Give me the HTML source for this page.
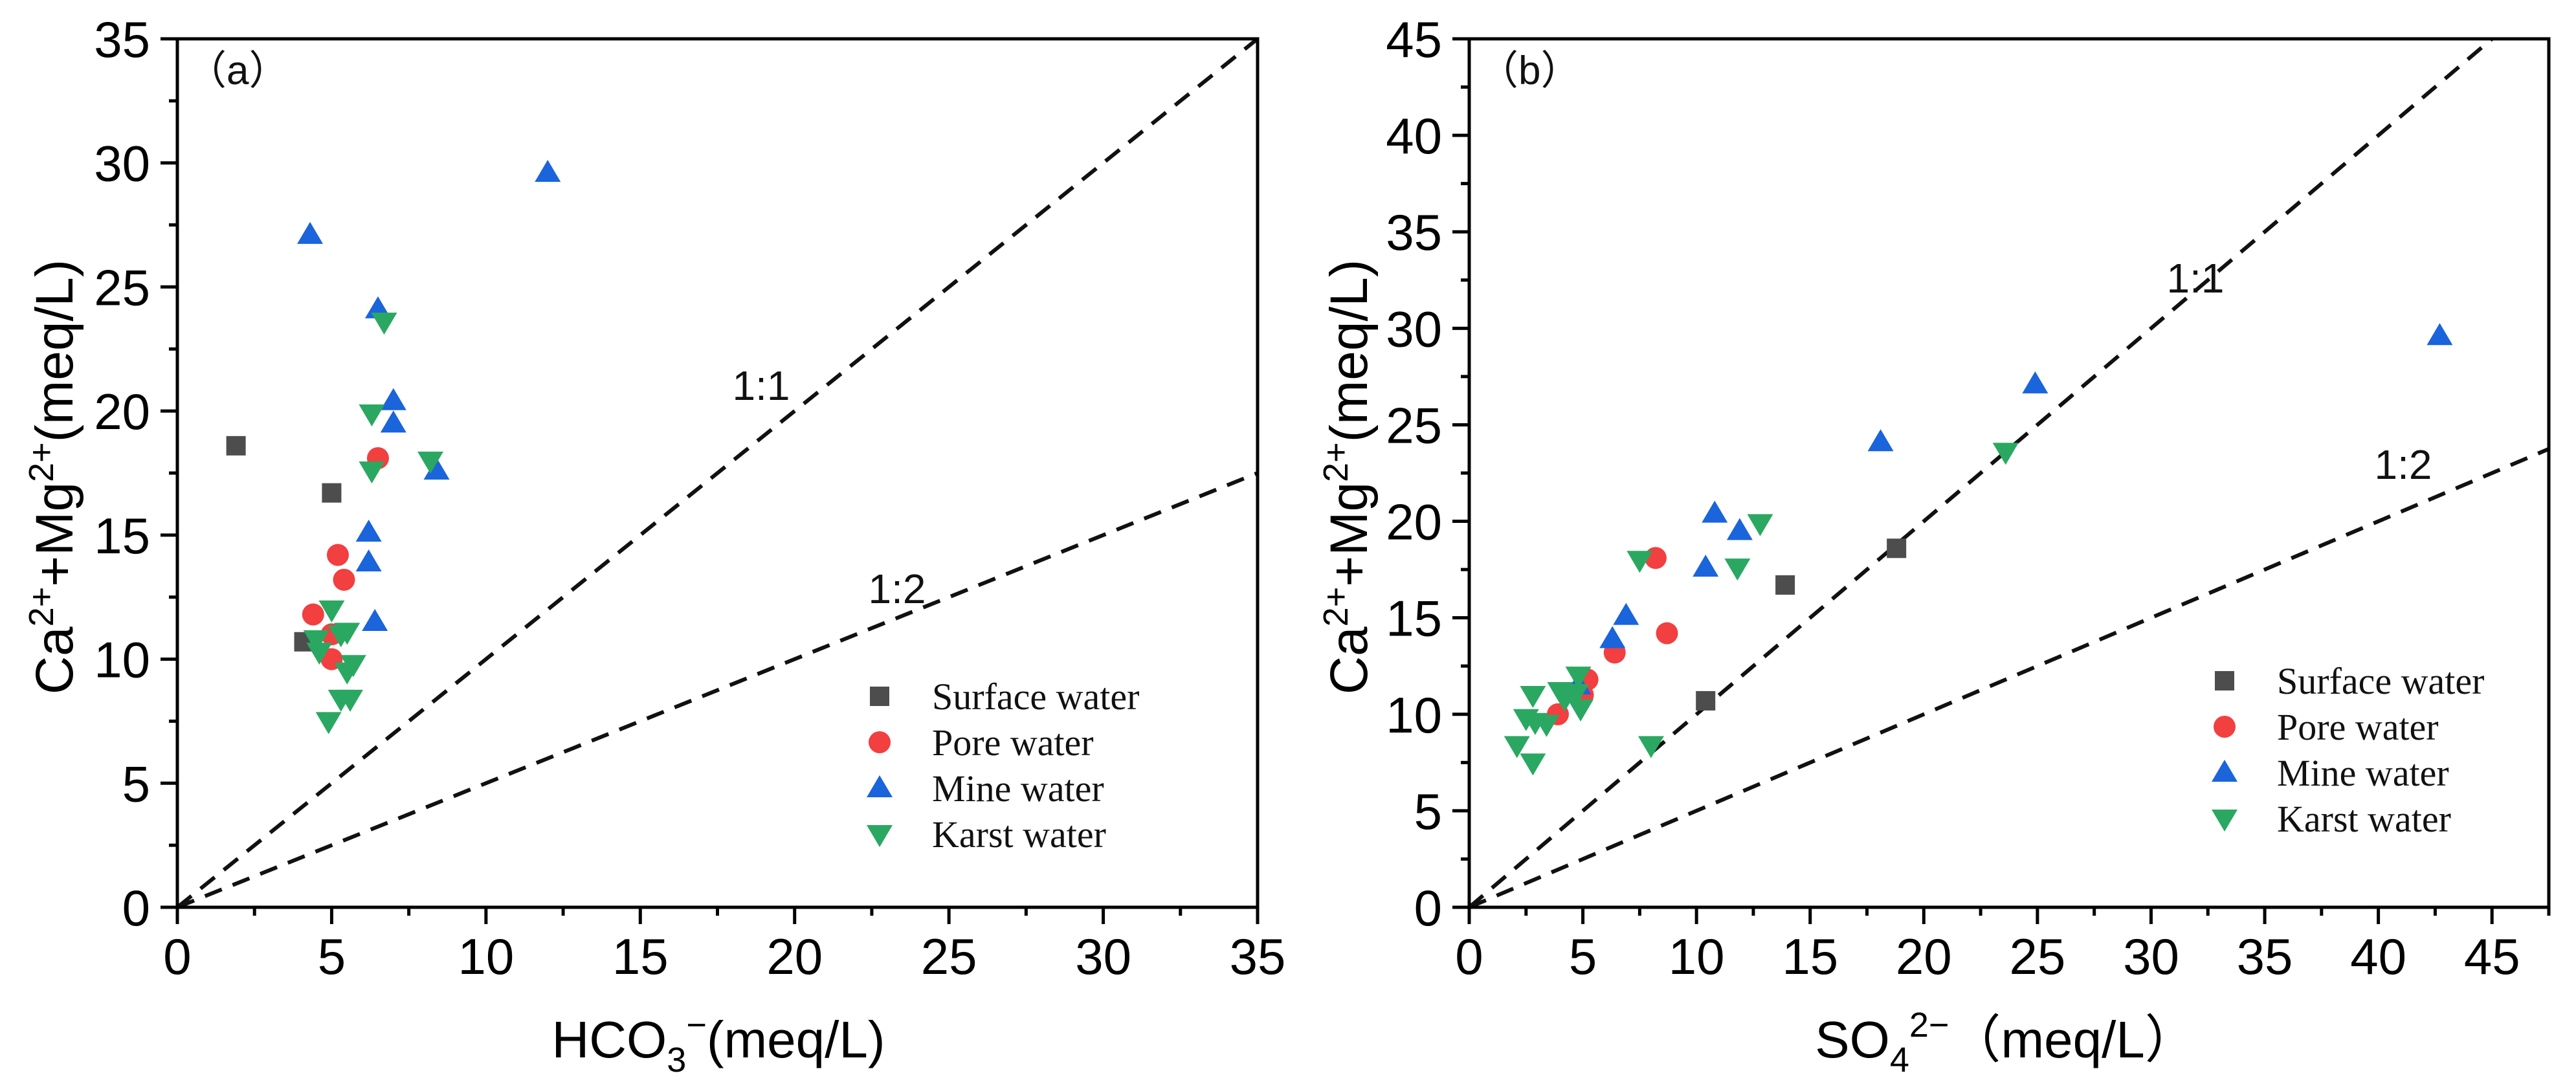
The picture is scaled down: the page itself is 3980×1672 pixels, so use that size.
<!DOCTYPE html>
<html><head><meta charset="utf-8"><style>
html,body{margin:0;padding:0;background:#fff}
svg{display:block}
text{font-family:"Liberation Sans",sans-serif}
.leg{font-family:"Liberation Serif",serif;font-size:58px}
</style></head><body>
<svg id="chart" width="3980" height="1672" viewBox="0 0 3980 1672" xmlns="http://www.w3.org/2000/svg"></svg>
<script>
// ---------- data ----------
const surfaceA_x=[1.9,5.0,4.1];
const surfaceA_y=[18.6,16.7,10.7];
const poreA_x=[6.5,5.2,5.4,4.4,5.0,5.0];
const poreA_y=[18.1,14.2,13.2,11.8,11.0,10.0];
const mineA_x=[12.0,4.3,6.5,7.0,7.0,8.4,6.2,6.2,6.4];
const mineA_y=[29.6,27.1,24.1,20.4,19.5,17.6,15.1,13.9,11.5];
const karstA_x=[6.7,6.3,8.2,6.3,5.0,5.5,5.3,4.5,4.6,5.7,5.5,5.3,5.6,4.9];
const karstA_y=[23.6,19.9,18.0,17.6,12.0,11.1,11.0,10.8,10.3,9.8,9.5,8.4,8.4,7.5];

const surfaceB_x=[18.8,13.9,10.4];
const surfaceB_y=[18.6,16.7,10.7];
const poreB_x=[8.2,8.7,6.4,5.2,5.0,3.9];
const poreB_y=[18.1,14.2,13.2,11.8,11.0,10.0];
const mineB_x=[42.7,24.9,18.1,10.8,11.9,10.4,6.9,6.3,4.8];
const mineB_y=[29.6,27.1,24.1,20.4,19.5,17.6,15.1,13.9,11.5];
const karstB_x=[23.6,12.8,7.5,11.8,4.8,4.7,2.8,4.2,4.9,2.5,3.4,2.1,8.0,2.8,2.9,4.0];
const karstB_y=[23.6,19.9,18.0,17.6,12.0,11.1,11.0,10.8,10.3,9.8,9.5,8.4,8.4,7.5,9.6,11.2];

const ticksA=[0,5,10,15,20,25,30,35];
const ticksBx=[0,5,10,15,20,25,30,35,40,45];
const ticksBy=[0,5,10,15,20,25,30,35,40,45];
const seriesNames=["Surface water","Pore water","Mine water","Karst water"];

// ---------- drawing ----------
const NS="http://www.w3.org/2000/svg";
const svg=document.getElementById('chart');
function mk(tag,attrs,parent){const e=document.createElementNS(NS,tag);for(const k in attrs)e.setAttribute(k,attrs[k]);(parent||svg).appendChild(e);return e;}
const COLORS=["#4d4d4d","#f23f3f","#1a64dc","#2aa862"];

function marker(g,type,cx,cy,name){
  let e;
  if(type===0){e=mk('rect',{x:cx-15,y:cy-15,width:30,height:30,fill:COLORS[0]},g);}
  else if(type===1){e=mk('circle',{cx:cx,cy:cy,r:17,fill:COLORS[1]},g);}
  else if(type===2){e=mk('polygon',{points:`${cx},${cy-20} ${cx-20},${cy+14} ${cx+20},${cy+14}`,fill:COLORS[2]},g);}
  else {e=mk('polygon',{points:`${cx},${cy+20} ${cx-20},${cy-14} ${cx+20},${cy-14}`,fill:COLORS[3]},g);}
  
  
  return e;
}

function panel(o){
  const g=mk('g',{});
  
  
  const X=v=>o.x0+(v-0)*(o.x1-o.x0)/o.xmax;
  const Y=v=>o.y0-(v)*(o.y0-o.y1)/o.ymax;
  const l1=mk('line',{x1:X(0),y1:Y(0),x2:X(o.l1end),y2:Y(o.l1end),stroke:'#111','stroke-width':6,'stroke-dasharray':'28 18'},g);
  
  
  const l2=mk('line',{x1:X(0),y1:Y(0),x2:X(o.xmax),y2:Y(o.xmax/2),stroke:'#111','stroke-width':6,'stroke-dasharray':'28 18'},g);
  
  
  const t1=mk('text',{x:o.lab1[0],y:o.lab1[1],'font-size':64,'text-anchor':'middle',fill:'#111'},g);t1.textContent='1:1';
  
  
  const t2=mk('text',{x:o.lab2[0],y:o.lab2[1],'font-size':64,'text-anchor':'middle',fill:'#111'},g);t2.textContent='1:2';
  
  
  const sets=[[o.sx,o.sy],[o.px,o.py],[o.mx,o.my],[o.kx,o.ky]];
  sets.forEach((s,t)=>{for(let i=0;i<s[0].length;i++)marker(g,t,X(s[0][i]),Y(s[1][i]),'point-'+seriesNames[t].toLowerCase().replace(' ','-'));});
  const fr=mk('rect',{x:o.x0,y:o.y1,width:o.x1-o.x0,height:o.y0-o.y1,fill:'none',stroke:'#000','stroke-width':5},g);
  
  
  for(let v=0;v<=o.xmax+0.01;v+=2.5){const maj=Math.abs(v%5)<0.01;mk('line',{x1:X(v),x2:X(v),y1:o.y0,y2:o.y0+(maj?26:13),stroke:'#000','stroke-width':5},g);}
  o.xt.forEach(v=>{const t=mk('text',{x:X(v),y:1505,'font-size':78,'text-anchor':'middle',fill:'#000'},g);t.textContent=v;
    
    });
  for(let v=0;v<=o.ymax+0.01;v+=2.5){const maj=Math.abs(v%5)<0.01;mk('line',{x1:o.x0,x2:o.x0-(maj?26:13),y1:Y(v),y2:Y(v),stroke:'#000','stroke-width':5},g);}
  o.yt.forEach(v=>{const t=mk('text',{x:o.x0-42,y:Y(v)+28,'font-size':78,'text-anchor':'end',fill:'#000'},g);t.textContent=v;
    
    });
  const pt=mk('text',{x:o.x0+14,y:130,'font-size':62,fill:'#111'},g);pt.textContent=o.tag;
  
  
  const lg=mk('g',{},g);
  
  
  seriesNames.forEach((n,i)=>{const cy=o.leg[1]+i*71;
    marker(lg,i,o.leg[0],cy,'legend-marker');
    const t=mk('text',{x:o.leg[0]+81,y:cy+20,class:'leg',fill:'#111'},lg);t.textContent=n;
    
    });
  const yt=mk('text',{transform:`translate(${o.ytx},737) rotate(-90)`,'font-size':82,'text-anchor':'middle',fill:'#000'},g);
  yt.innerHTML='Ca<tspan dy="-30" font-size="54">2+</tspan><tspan dy="30">+Mg</tspan><tspan dy="-30" font-size="54">2+</tspan><tspan dy="30">(meq/L)</tspan>';
  
  
  const xt=mk('text',{x:o.xtx,y:1634,'font-size':80,'text-anchor':'middle',fill:'#000'},g);
  xt.innerHTML=o.xtitle;
  
  
}

panel({id:'panel-a',tag:'（a）',x0:274,x1:1943,y0:1402,y1:60,xmax:35,ymax:35,l1end:35,
  sx:surfaceA_x,sy:surfaceA_y,px:poreA_x,py:poreA_y,mx:mineA_x,my:mineA_y,kx:karstA_x,ky:karstA_y,
  xt:ticksA,yt:ticksA,lab1:[1176,618],lab2:[1386,932],leg:[1359,1076],ytx:112,xtx:1110,
  xtitle:'HCO<tspan dy="22" font-size="54">3</tspan><tspan dy="-54" font-size="54">−</tspan><tspan dy="32">(meq/L)</tspan>'});
panel({id:'panel-b',tag:'（b）',x0:2270,x1:3938,y0:1402,y1:60,xmax:47.5,ymax:45,l1end:45,
  sx:surfaceB_x,sy:surfaceB_y,px:poreB_x,py:poreB_y,mx:mineB_x,my:mineB_y,kx:karstB_x,ky:karstB_y,
  xt:ticksBx,yt:ticksBy,lab1:[3392,452],lab2:[3713,740],leg:[3437,1052],ytx:2112,xtx:3099,
  xtitle:'SO<tspan dy="22" font-size="54">4</tspan><tspan dy="-54" font-size="54">2−</tspan><tspan dy="32" font-family="Noto Sans CJK SC, sans-serif">（</tspan>meq/L<tspan font-family="Noto Sans CJK SC, sans-serif">）</tspan>'});
</script>
</body></html>
